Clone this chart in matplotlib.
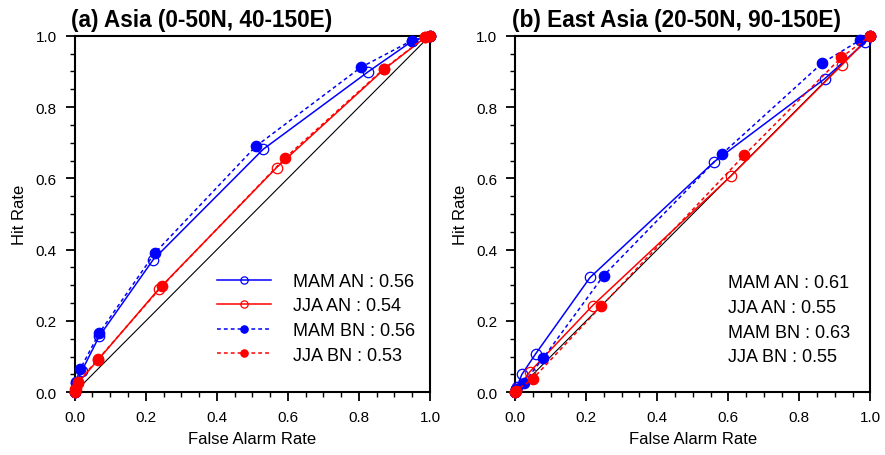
import matplotlib
matplotlib.use("Agg")
import matplotlib.pyplot as plt
from matplotlib.ticker import MultipleLocator, FormatStrFormatter

plt.rcParams['font.family'] = ['Liberation Sans', 'DejaVu Sans']

# ---------------- data ----------------
# Panel (a) Asia
a_mam_an_x = [0.0, 0.004, 0.020, 0.069, 0.221, 0.531, 0.826, 0.950, 1.0]
a_mam_an_y = [0.0, 0.025, 0.060, 0.157, 0.372, 0.682, 0.899, 0.985, 1.0]
a_jja_an_x = [0.0, 0.003, 0.008, 0.065, 0.237, 0.568, 0.871, 0.986, 1.0]
a_jja_an_y = [0.0, 0.010, 0.025, 0.090, 0.290, 0.630, 0.906, 0.995, 1.0]
a_mam_bn_x = [0.0, 0.003, 0.016, 0.069, 0.225, 0.510, 0.805, 0.948, 1.0]
a_mam_bn_y = [0.0, 0.030, 0.066, 0.166, 0.390, 0.690, 0.911, 0.986, 1.0]
a_jja_bn_x = [0.0, 0.002, 0.009, 0.066, 0.247, 0.592, 0.871, 0.986, 1.0]
a_jja_bn_y = [0.0, 0.008, 0.029, 0.093, 0.299, 0.657, 0.908, 0.995, 1.0]

# Panel (b) East Asia
b_mam_an_x = [0.0, 0.005, 0.019, 0.058, 0.211, 0.561, 0.871, 0.986, 1.0]
b_mam_an_y = [0.0, 0.015, 0.050, 0.108, 0.322, 0.647, 0.879, 0.982, 1.0]
b_jja_an_x = [0.0, 0.004, 0.042, 0.218, 0.608, 0.920, 1.0]
b_jja_an_y = [0.0, 0.008, 0.058, 0.243, 0.607, 0.918, 1.0]
b_mam_bn_x = [0.0, 0.004, 0.025, 0.079, 0.249, 0.582, 0.864, 0.970, 1.0]
b_mam_bn_y = [0.0, 0.010, 0.027, 0.096, 0.327, 0.668, 0.923, 0.987, 1.0]
b_jja_bn_x = [0.0, 0.003, 0.050, 0.242, 0.645, 0.918, 1.0]
b_jja_bn_y = [0.0, 0.005, 0.038, 0.241, 0.665, 0.939, 1.0]

a_labels = ["MAM AN : 0.56", "JJA AN : 0.54", "MAM BN : 0.56", "JJA BN : 0.53"]
b_labels = ["MAM AN : 0.61", "JJA AN : 0.55", "MAM BN : 0.63", "JJA BN : 0.55"]
titles = ["(a) Asia (0-50N, 40-150E)", "(b) East Asia (20-50N, 90-150E)"]

BLUE = "#0000ff"
RED = "#ff0000"

fig = plt.figure(figsize=(8.85, 4.56), dpi=100)
ax1 = fig.add_axes([0.0844, 0.1375, 0.4015, 0.782])
ax2 = fig.add_axes([0.582, 0.1375, 0.4015, 0.782])


def draw(ax, series, labels, title, legend):
    ax.plot([0, 1], [0, 1], color="black", lw=0.8, zorder=1)
    styles = [
        dict(color=BLUE, ls="-", filled=False),
        dict(color=RED, ls="-", filled=False),
        dict(color=BLUE, ls=(0, (2.5, 2)), filled=True),
        dict(color=RED, ls=(0, (2.5, 2)), filled=True),
    ]
    handles = []
    for (xs, ys), st, lab in zip(series, styles, labels):
        h, = ax.plot(xs, ys, color=st["color"], ls=st["ls"], lw=1.1,
                     marker="o", ms=7.5, mew=0.9,
                     mfc=st["color"] if st["filled"] else "none",
                     clip_on=False, zorder=3, label=lab)
        handles.append(h)
    ax.set_xlim(0, 1)
    ax.set_ylim(0, 1)
    ax.xaxis.set_major_locator(MultipleLocator(0.2))
    ax.yaxis.set_major_locator(MultipleLocator(0.2))
    ax.xaxis.set_minor_locator(MultipleLocator(0.05))
    ax.yaxis.set_minor_locator(MultipleLocator(0.05))
    ax.xaxis.set_major_formatter(FormatStrFormatter("%.1f"))
    ax.yaxis.set_major_formatter(FormatStrFormatter("%.1f"))
    ax.tick_params(which="major", direction="out", length=6.5, width=1.3,
                   labelsize=11, pad=6.5)
    ax.tick_params(which="minor", direction="out", length=3.5, width=1.0)
    for sp in ax.spines.values():
        sp.set_linewidth(1.5)
    ax.set_xlabel("False Alarm Rate", fontsize=12, labelpad=5)
    ax.set_ylabel("Hit Rate", fontsize=12, labelpad=6)
    ax.set_title(title, loc="left", fontsize=16.3, fontweight="bold", pad=7,
                 x=-0.01)
    if legend:
        ax.legend(handles=handles, loc="upper left",
                  bbox_to_anchor=(0.40, 0.335), frameon=False,
                  fontsize=13, handlelength=3.0, handletextpad=1.2,
                  labelspacing=0.42, borderpad=0, borderaxespad=0,
                  markerscale=0.7)
    else:
        for i, lab in enumerate(labels):
            ax.text(0.60, 0.309 - i * 0.070, lab, transform=ax.transAxes,
                    fontsize=13, ha="left", va="center")


draw(ax1, [(a_mam_an_x, a_mam_an_y), (a_jja_an_x, a_jja_an_y),
           (a_mam_bn_x, a_mam_bn_y), (a_jja_bn_x, a_jja_bn_y)],
     a_labels, titles[0], True)
draw(ax2, [(b_mam_an_x, b_mam_an_y), (b_jja_an_x, b_jja_an_y),
           (b_mam_bn_x, b_mam_bn_y), (b_jja_bn_x, b_jja_bn_y)],
     b_labels, titles[1], False)

fig.savefig("out.png", dpi=100)
